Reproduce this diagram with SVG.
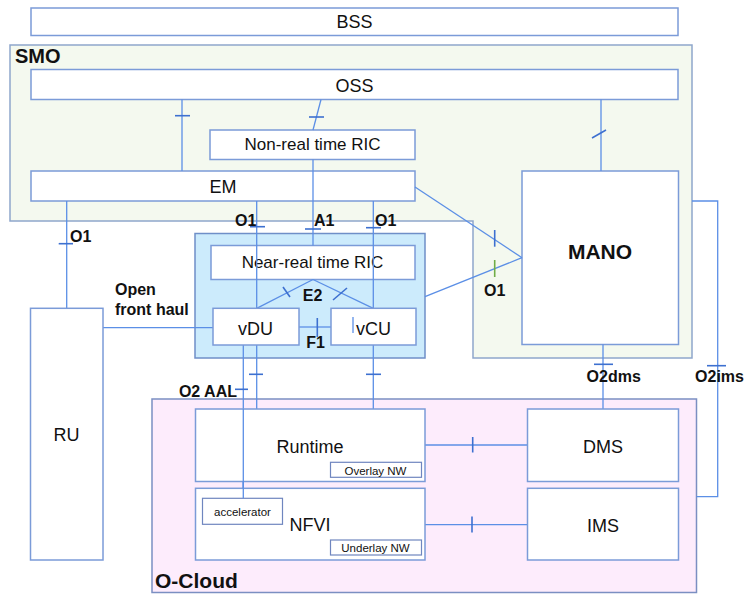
<svg xmlns="http://www.w3.org/2000/svg" width="748" height="595" viewBox="0 0 748 595">
<style>
text{font-family:"Liberation Sans",Arial,sans-serif;fill:#111}
.box{fill:#fff;stroke:#7b9bd8;stroke-width:1.5}
.lbl{font-size:18px;text-anchor:middle}
.b{font-weight:bold}
.ln{stroke:#5b8fe6;stroke-width:1.3;fill:none}
.tk{stroke:#3d70d0;stroke-width:1.6;fill:none}
.sm{font-size:11.5px;text-anchor:middle}
.il{font-size:16px;font-weight:bold}
</style>
<rect width="748" height="595" fill="#fff"/>
<g id="smo">
<polygon points="10,45 692,45 692,358 473,358 473,221 10,221" fill="#f4f9ef" stroke="#8ea6cc" stroke-width="1.5"/>
<text x="15" y="63" class="b" style="font-size:20px">SMO</text>
</g>
<g id="ocloud">
<rect x="152" y="399" width="544.5" height="193.5" fill="#fdecfc" stroke="#7b8fc2" stroke-width="1.5"/>
<text x="155" y="588" class="b" style="font-size:21px">O-Cloud</text>
</g>
<g id="nearrt-container">
<rect x="195" y="233.5" width="230" height="124.5" fill="#ccebfc" stroke="#6f8fc8" stroke-width="1.5"/>
</g>
<g id="bss"><rect class="box" x="31" y="8" width="647" height="27.5"/><text class="lbl" x="354.5" y="28.3">BSS</text></g>
<g id="oss"><rect class="box" x="31" y="69.5" width="647" height="30"/><text class="lbl" x="354.5" y="91.5">OSS</text></g>
<g id="nonrt-ric"><rect class="box" x="210" y="130" width="205" height="29.5"/><text class="lbl" x="312.5" y="150" style="font-size:17px">Non-real time RIC</text></g>
<g id="em"><rect class="box" x="31" y="171" width="384" height="30"/><text class="lbl" x="223" y="193">EM</text></g>
<g id="mano"><rect class="box" x="522" y="171" width="156.5" height="173.5"/><text class="lbl b" x="600" y="259" style="font-size:21px">MANO</text></g>
<g id="nearrt-ric"><rect class="box" x="211" y="245.5" width="204" height="34"/><text class="lbl" x="312.5" y="267.7" style="font-size:17px">Near-real time RIC</text></g>
<g id="connectors">
<line class="ln" x1="182" y1="99.5" x2="182" y2="171"/><line class="tk" x1="175" y1="115.7" x2="190" y2="115.7"/>
<line class="ln" x1="321" y1="99.5" x2="313" y2="130"/><line class="tk" x1="309" y1="117" x2="324" y2="117"/>
<line class="ln" x1="601" y1="99.5" x2="601" y2="171"/><line class="tk" x1="592" y1="138" x2="606" y2="130"/>
<line class="ln" x1="313" y1="159.5" x2="313" y2="245.5"/><line class="tk" x1="305" y1="229" x2="321" y2="229"/>
<text class="il" x="314" y="225.7">A1</text>
<line class="ln" x1="256.7" y1="201" x2="256.7" y2="308.3"/><line class="ln" x1="256.7" y1="345" x2="256.7" y2="409"/><line class="tk" x1="250" y1="226.7" x2="265" y2="226.7"/>
<text class="il" x="235" y="225.7">O1</text>
<line class="ln" x1="373.3" y1="201" x2="373.3" y2="308.3"/><line class="ln" x1="373.3" y1="345" x2="373.3" y2="409"/><line class="tk" x1="366" y1="227.7" x2="381" y2="227.7"/>
<text class="il" x="375" y="225.7">O1</text>
<line class="ln" x1="66.7" y1="201" x2="66.7" y2="308.3"/><line class="tk" x1="58.7" y1="243.7" x2="73" y2="243.7"/>
<text class="il" x="70" y="242">O1</text>
<line class="ln" x1="313" y1="279.5" x2="256.7" y2="308.3"/><line class="ln" x1="313" y1="279.5" x2="373.3" y2="308.3"/>
<line class="tk" x1="283" y1="287" x2="290" y2="297"/><line class="tk" x1="333" y1="300" x2="347" y2="288"/>
<text class="il" x="312.5" y="301" text-anchor="middle">E2</text>
<line class="ln" x1="299" y1="327" x2="331" y2="327"/><line class="tk" x1="317.3" y1="318" x2="317.3" y2="337"/>
<text class="il" x="315.5" y="347.7" text-anchor="middle">F1</text>
<line class="ln" x1="103" y1="327.7" x2="213" y2="327.7"/>
<text class="il" x="115" y="295">Open</text><text class="il" x="115" y="315">front haul</text>
<line class="ln" x1="425" y1="296.7" x2="522" y2="257.7"/><line x1="494.7" y1="260" x2="494.7" y2="277" stroke="#70ad47" stroke-width="1.6"/>
<text class="il" x="494.7" y="295.7" text-anchor="middle">O1</text>
<line class="ln" x1="415" y1="187" x2="522" y2="257.7"/><line class="tk" x1="494.7" y1="230" x2="494.7" y2="246.7"/>
<line class="ln" x1="603" y1="344.5" x2="603" y2="409"/><line class="tk" x1="594" y1="364.3" x2="613" y2="364.3"/>
<text class="il" x="613.7" y="381.7" text-anchor="middle">O2dms</text>
<polyline class="ln" points="692,201 717.7,201 717.7,496.7 696.5,496.7"/><line class="tk" x1="707" y1="365.7" x2="726" y2="365.7"/>
<text class="il" x="719.5" y="381.7" text-anchor="middle">O2ims</text>
<line class="ln" x1="243.3" y1="345" x2="243.3" y2="498.3"/><line class="tk" x1="235" y1="389.3" x2="248" y2="389.3"/>
<text class="il" x="237" y="397" text-anchor="end">O2 AAL</text>
<line class="tk" x1="249" y1="374.3" x2="263" y2="374.3"/><line class="tk" x1="366" y1="374.3" x2="381" y2="374.3"/>
<line class="ln" x1="425" y1="445" x2="527.5" y2="445"/><line class="tk" x1="472.7" y1="437" x2="472.7" y2="452.5"/>
<line class="ln" x1="425" y1="524.7" x2="527.5" y2="524.7"/><line class="tk" x1="472" y1="516.5" x2="472" y2="532.5"/>
</g>
<g id="vdu"><rect class="box" x="213" y="308.3" width="86" height="36.7"/><text class="lbl" x="255.5" y="335">vDU</text></g>
<g id="vcu"><rect class="box" x="331" y="308.3" width="85" height="36.7"/><text class="lbl" x="373.5" y="335">vCU</text><line x1="353" y1="317" x2="353" y2="333" class="ln"/></g>
<g id="ru"><rect class="box" x="30.5" y="308.3" width="72.5" height="251.7"/><text class="lbl" x="66.5" y="440.7">RU</text></g>
<g id="runtime"><rect class="box" x="195.5" y="409" width="229.5" height="72.5"/><text class="lbl" x="310" y="453">Runtime</text>
<rect x="330.5" y="462.3" width="91" height="15" fill="#fff" stroke="#6f86bf" stroke-width="1.2"/><text class="sm" x="375.5" y="474.5">Overlay  NW</text></g>
<g id="nfvi"><rect class="box" x="195.5" y="488.3" width="229.5" height="71.7"/><text class="lbl" x="310" y="530.7">NFVI</text>
<rect x="330.5" y="540" width="91" height="15" fill="#fff" stroke="#6f86bf" stroke-width="1.2"/><text class="sm" x="375.5" y="551.8">Underlay  NW</text></g>
<g id="accelerator"><rect x="202.5" y="498.3" width="80" height="26" fill="#fff" stroke="#6f86bf" stroke-width="1.2"/><text class="sm" x="242.5" y="515.5">accelerator</text></g>
<g id="dms"><rect class="box" x="527.5" y="409" width="151" height="72.5"/><text class="lbl" x="603" y="452.7">DMS</text></g>
<g id="ims"><rect class="box" x="527.5" y="488.3" width="151" height="71.7"/><text class="lbl" x="603" y="531.7">IMS</text></g>
<g id="accel-link"><line class="ln" x1="243.3" y1="481.5" x2="243.3" y2="498.3"/><line class="ln" x1="243.3" y1="409" x2="243.3" y2="488.3"/></g>
</svg>
